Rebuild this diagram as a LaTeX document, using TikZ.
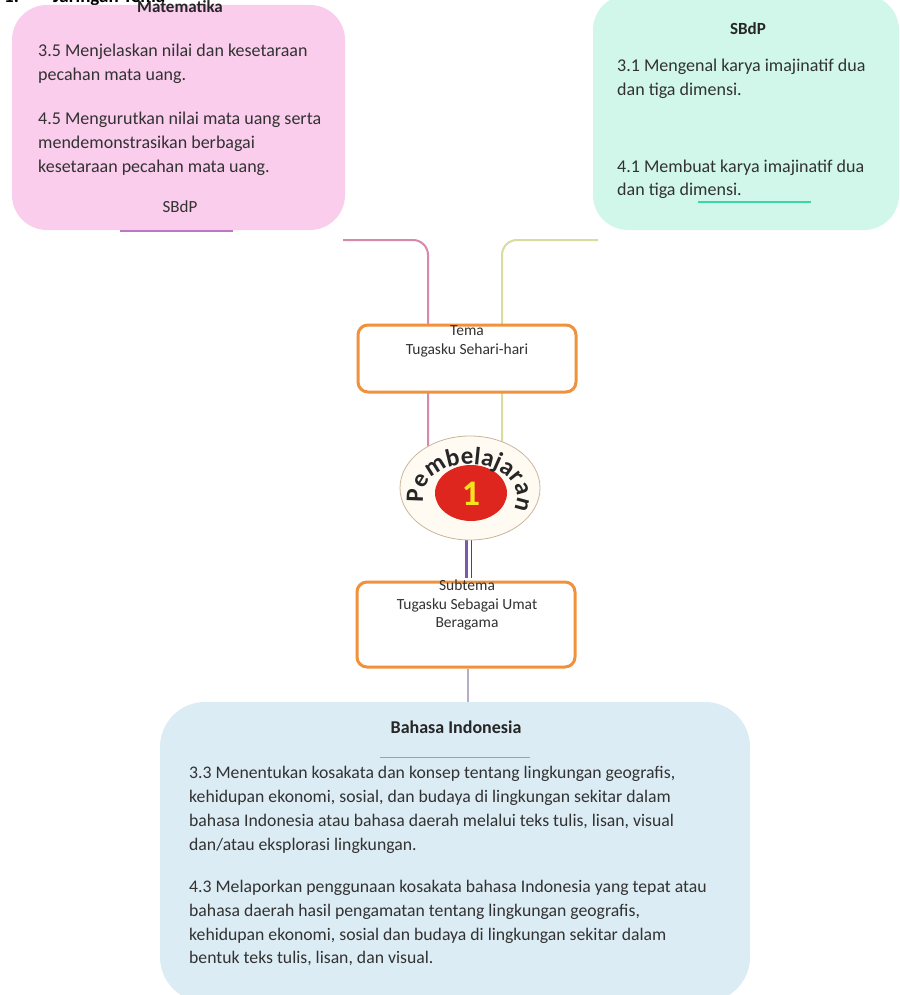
\documentclass[tikz,border=0pt]{standalone}
\usepackage{fontspec}
\setmainfont{Carlito}
\usetikzlibrary{decorations.text,shapes.geometric}
\definecolor{pinkfill}{RGB}{250,205,237}
\definecolor{mintfill}{RGB}{208,247,233}
\definecolor{bluefill}{RGB}{220,236,244}
\definecolor{txtgray}{RGB}{50,50,50}
\definecolor{orangeb}{RGB}{240,146,60}
\definecolor{pinkline}{RGB}{214,138,170}
\definecolor{oliveline}{RGB}{216,220,158}
\definecolor{purpline}{RGB}{190,120,195}
\definecolor{tealline}{RGB}{60,214,168}
\definecolor{blueline}{RGB}{130,168,205}
\definecolor{redc}{RGB}{222,38,30}
\definecolor{yellowc}{RGB}{248,226,30}
\definecolor{creamc}{RGB}{255,251,242}
\definecolor{creamb}{RGB}{200,182,155}
\definecolor{violet1}{RGB}{120,90,170}
\definecolor{grayv}{RGB}{182,174,200}
\begin{document}
\begin{tikzpicture}[x=1pt,y=1pt,
  bigbox/.style={rectangle, inner sep=0pt, draw=none},
  topicbox/.style={rectangle, inner sep=0pt, draw=orangeb, line width=3pt, fill=white, rounded corners=10pt, minimum width=218pt},
  txt/.style={anchor=base west, inner sep=0pt, text=txtgray, font=\fontsize{18}{21}\selectfont},
  btxt/.style={anchor=base west, inner sep=0pt, text=txtgray, font=\fontsize{17.7}{21}\selectfont},
  ttl/.style={anchor=base, inner sep=0pt, text=black!85, font=\bfseries\fontsize{17}{20}\selectfont},
  ctxt/.style={anchor=base, inner sep=0pt, text=txtgray, font=\fontsize{15.5}{18}\selectfont},
  conn/.style={line width=2pt, rounded corners=15pt}
]
\useasboundingbox (0,0) rectangle (899,-995);
\fill[white] (0,0) rectangle (899,-995);

% title (cut off at top)
\node[anchor=base west, inner sep=0pt, font=\bfseries\fontsize{19}{22}\selectfont] (title1) at (4,-3) {1.};
\node[anchor=base west, inner sep=0pt, font=\bfseries\fontsize{19}{22}\selectfont] (title) at (53,-3) {Jaringan Tema};

% connectors (drawn first, behind boxes)
\coordinate (pkstart) at (343,-240);
\coordinate (olstart) at (598,-240);
\draw[conn, pinkline] (pkstart) -- (428,-240) -- (428,-490);
\draw[conn, oliveline] (olstart) -- (502,-240) -- (502,-490);

% Matematika box
\node[bigbox, fill=pinkfill, rounded corners=35pt, minimum width=333pt, minimum height=225pt] (mat) at (178.5,-117.5) {};
\node[ttl] (matt) at (180,-13) {Matematika};
\node[txt] (m1) at (38,-57) {3.5 Menjelaskan nilai dan kesetaraan};
\node[txt] (m2) at (38,-81) {pecahan mata uang.};
\node[txt] (m3) at (38,-125) {4.5 Mengurutkan nilai mata uang serta};
\node[txt] (m4) at (38,-149) {mendemonstrasikan berbagai};
\node[txt] (m5) at (38,-172) {kesetaraan pecahan mata uang.};
\node[anchor=base, inner sep=0pt, text=txtgray, font=\fontsize{17}{20}\selectfont] (m6) at (180,-212) {SBdP};
\draw[purpline, line width=2.5pt] (120,-231) -- (233,-231);

% SBdP box
\node[bigbox, fill=mintfill, rounded corners=35pt, minimum width=306pt, minimum height=235pt] (sbdp) at (746,-112.5) {};
\node[ttl] (st) at (748,-35) {SBdP};
\node[txt] (s1) at (617,-72) {3.1 Mengenal karya imajinatif dua};
\node[txt] (s2) at (617,-96) {dan tiga dimensi.};
\node[txt] (s3) at (617,-172) {4.1 Membuat karya imajinatif dua};
\node[txt] (s4) at (617,-195) {dan tiga dimensi.};
\draw[tealline, line width=2.5pt] (698,-202) -- (811,-202);

% Tema box
\node[topicbox, minimum height=67pt] (tema) at (467,-358.5) {};
\node[ctxt] (tema1) at (467,-335) {Tema};
\node[ctxt] (tema2) at (467,-354) {Tugasku Sehari-hari};

% lines below circle and subtema
\draw[violet1, line width=3pt] (466.5,-538) -- (466.5,-578);
\draw[black!70, line width=1.5pt] (471.5,-538) -- (471.5,-578);

% Pembelajaran circle
\node[ellipse, draw=creamb, line width=0.8pt, fill=creamc, minimum width=140pt, minimum height=104pt, inner sep=0pt] (circ) at (470,-488) {};
\node[ellipse, fill=redc, minimum width=72pt, minimum height=56pt, inner sep=0pt] (red) at (471,-493) {};
\node[inner sep=0pt, text=yellowc, font=\bfseries\fontsize{36}{36}\selectfont] (one) at (471,-494) {1};
\path[decorate, decoration={text along path, text align={fit to path},
   text={|\bfseries\fontsize{25}{25}\selectfont\color{black!85}|Pembelajaran}}]
   (470,-497) ++(190:47 and 33) arc[start angle=190, end angle=-22, x radius=47, y radius=33];

% Subtema box
\node[topicbox, minimum height=85pt] (sub) at (466,-624.5) {};
\node[ctxt] (sub1) at (467,-590) {Subtema};
\node[ctxt] (sub2) at (467,-609) {Tugasku Sebagai Umat};
\node[ctxt] (sub3) at (467,-627) {Beragama};

% line to Bahasa box
\draw[grayv, line width=2pt] (sub.south -| 468,0) -- (468,-703);

% Bahasa Indonesia box
\node[bigbox, fill=bluefill, rounded corners=45pt, minimum width=590pt, minimum height=300pt] (bhs) at (455,-852) {};
\node[ttl, font=\bfseries\fontsize{18}{21}\selectfont] (bt) at (456,-733) {Bahasa Indonesia};
\draw[blueline, line width=1pt] (380,-757) -- (530,-757);
\node[btxt] (b1) at (189,-778) {3.3 Menentukan kosakata dan konsep tentang lingkungan geografis,};
\node[btxt] (b2) at (189,-802) {kehidupan ekonomi, sosial, dan budaya di lingkungan sekitar dalam};
\node[btxt] (b3) at (189,-826) {bahasa Indonesia atau bahasa daerah melalui teks tulis, lisan, visual};
\node[btxt] (b4) at (189,-850) {dan/atau eksplorasi lingkungan.};
\node[btxt] (b5) at (189,-892) {4.3 Melaporkan penggunaan kosakata bahasa Indonesia yang tepat atau};
\node[btxt] (b6) at (189,-916) {bahasa daerah hasil pengamatan tentang lingkungan geografis,};
\node[btxt] (b7) at (189,-940) {kehidupan ekonomi, sosial dan budaya di lingkungan sekitar dalam};
\node[btxt] (b8) at (189,-963) {bentuk teks tulis, lisan, dan visual.};
\end{tikzpicture}
\end{document}
